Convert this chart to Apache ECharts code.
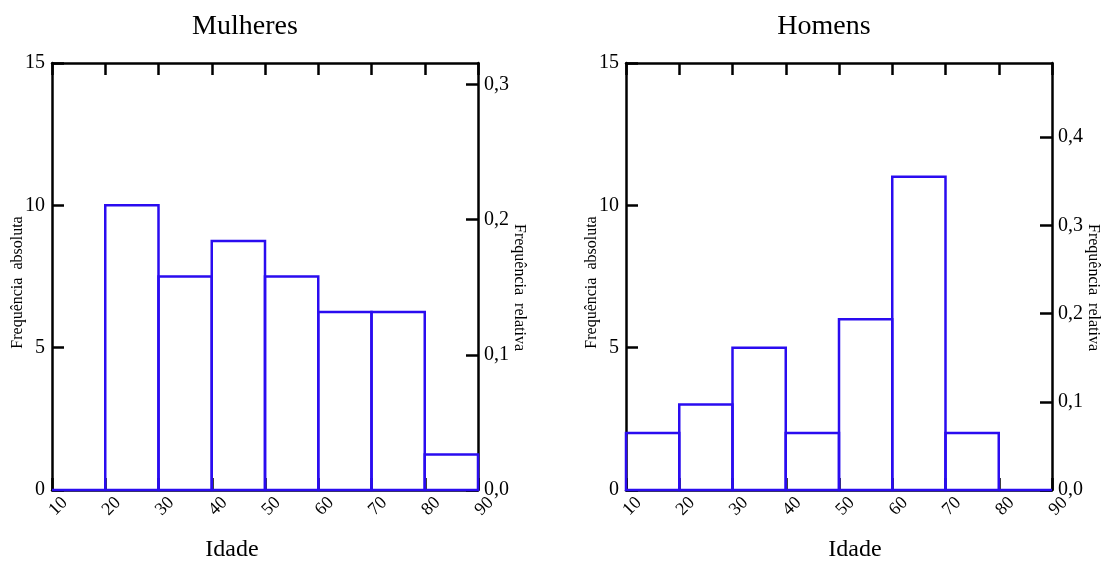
<!DOCTYPE html>
<html>
<head>
<meta charset="utf-8">
<script src="https://cdn.jsdelivr.net/npm/echarts@6/dist/echarts.min.js"></script>
<style>
  html, body { margin: 0; padding: 0; background: #fff; }
  #chart { width: 1109px; height: 561px; }
</style>
</head>
<body>
<div id="chart"></div>
<script>
// Classes de idade (limites) e frequências absolutas por classe
const ageEdges = [10, 20, 30, 40, 50, 60, 70, 80, 90]
const mulheresFreq = [0, 10, 7.5, 8.75, 7.5, 6.25, 6.25, 1.25]
const homensFreq = [2, 3, 5, 2, 6, 11, 2, 0]
const panelTitles = ['Mulheres', 'Homens']

const FONT = 'Liberation Serif'
const BLUE = '#2a0cf0'
const BLACK = '#000'

const chart = echarts.init(document.getElementById('chart'))

// monta [inicio, fim, freq] para cada classe
const toBins = freq => freq.map((f, i) => [ageEdges[i], ageEdges[i + 1], f])

const commaFmt = v => {
  if (Math.abs(v * 10 - Math.round(v * 10)) > 1e-6) return ''
  return v.toFixed(1).replace('.', ',')
}

const grids = [
  { left: 52, right: 631, top: 63, bottom: 71, outerBoundsMode: 'none' },
  { left: 626, right: 57, top: 63, bottom: 71, outerBoundsMode: 'none' }
]

// deslocamento do rotulo "Idade" (o original nao e centrado)
const idadePadding = [[0, 66, 0, 0], [0, 0, 0, 32]]

const xAxes = []
const yAxes = []
const series = []
const titles = []

;[mulheresFreq, homensFreq].forEach((freq, g) => {
  const total = freq.reduce((a, b) => a + b, 0)
  const yMax = 15

  titles.push({
    text: panelTitles[g],
    left: g === 0 ? 240 : 819,
    top: 8,
    textAlign: 'center',
    textStyle: { fontFamily: FONT, fontSize: 28, fontWeight: 'normal', color: BLACK }
  })

  // eixo x inferior
  xAxes.push({
    type: 'value', gridIndex: g, position: 'bottom',
    min: 10, max: 90, interval: 10,
    name: 'Idade', nameLocation: 'middle', nameGap: 48, nameMoveOverlap: false,
    nameTextStyle: { fontFamily: FONT, fontSize: 24, color: BLACK, padding: idadePadding[g] },
    axisLine: { onZero: false, lineStyle: { color: BLACK, width: 2.5 } },
    axisTick: { inside: true, length: 12, lineStyle: { color: BLACK, width: 2.5 } },
    axisLabel: {
      rotate: 45, align: 'center', verticalAlign: 'top', margin: 10,
      fontFamily: FONT, fontSize: 18, color: BLACK
    },
    splitLine: { show: false }
  })
  // eixo x superior (so marcas)
  xAxes.push({
    type: 'value', gridIndex: g, position: 'top',
    min: 10, max: 90, interval: 10,
    axisLine: { onZero: false, lineStyle: { color: BLACK, width: 2.5 } },
    axisTick: { inside: true, length: 12, lineStyle: { color: BLACK, width: 2.5 } },
    axisLabel: { show: false },
    splitLine: { show: false }
  })

  yAxes.push({
    type: 'value', gridIndex: g, position: 'left',
    min: 0, max: yMax, interval: 5,
    name: 'Frequência  absoluta', nameLocation: 'middle', nameGap: 26, nameRotate: 90,
    nameMoveOverlap: false,
    nameTextStyle: { fontFamily: FONT, fontSize: 16, color: BLACK, padding: [0, 12, 0, 0] },
    axisLine: { show: true, onZero: false, lineStyle: { color: BLACK, width: 2.5 } },
    axisTick: { show: true, inside: true, length: 12, lineStyle: { color: BLACK, width: 2.5 } },
    axisLabel: { margin: 7, fontFamily: FONT, fontSize: 20, color: BLACK },
    splitLine: { show: false }
  })
  yAxes.push({
    type: 'value', gridIndex: g, position: 'right',
    min: 0, max: yMax / total, interval: 0.1,
    name: 'Frequência  relativa', nameLocation: 'middle', nameGap: 33, nameRotate: -90,
    nameMoveOverlap: false,
    nameTextStyle: { fontFamily: FONT, fontSize: 16, color: BLACK, padding: [0, 0, 0, 22] },
    axisLine: { show: true, onZero: false, lineStyle: { color: BLACK, width: 2.5 } },
    axisTick: { show: true, inside: true, length: 12, lineStyle: { color: BLACK, width: 2.5 } },
    axisLabel: { margin: 6, fontFamily: FONT, fontSize: 20, color: BLACK, formatter: commaFmt, showMaxLabel: false },
    splitLine: { show: false }
  })

  series.push({
    type: 'custom',
    xAxisIndex: g * 2,
    yAxisIndex: g * 2,
    clip: false,
    data: toBins(freq),
    renderItem: (params, api) => {
      const p0 = api.coord([api.value(0), 0])
      const p1 = api.coord([api.value(1), api.value(2)])
      return {
        type: 'rect',
        shape: { x: p0[0], y: p1[1], width: p1[0] - p0[0], height: p0[1] - p1[1] },
        style: { fill: 'none', stroke: BLUE, lineWidth: 2.5 }
      }
    }
  })
})

chart.setOption({
  animation: false,
  backgroundColor: '#fff',
  title: titles,
  grid: grids,
  xAxis: xAxes,
  yAxis: yAxes,
  series: series
})
</script>
</body>
</html>
